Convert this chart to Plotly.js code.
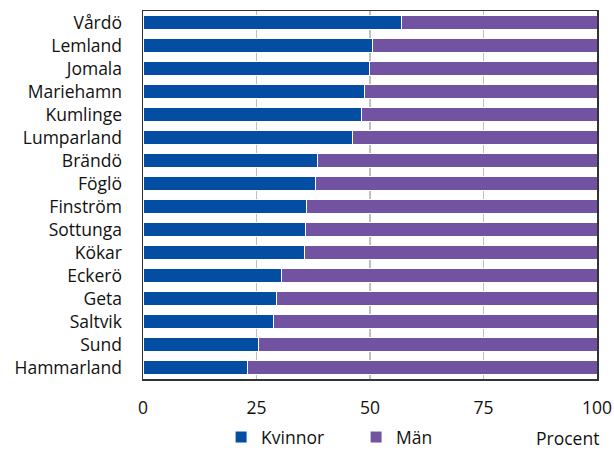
<!DOCTYPE html>
<html>
<head>
<meta charset="utf-8">
<script src="https://cdn.plot.ly/plotly-3.0.1.min.js"></script>
<style>html,body{margin:0;padding:0;background:#fff;}#chart{width:614px;height:452px;}</style>
</head>
<body>
<div id="chart"></div>
<script>
const categories = ["Vårdö","Lemland","Jomala","Mariehamn","Kumlinge","Lumparland","Brändö","Föglö","Finström","Sottunga","Kökar","Eckerö","Geta","Saltvik","Sund","Hammarland"];
const kvinnor = [57.0,50.5,49.8,48.7,48.2,46.2,38.5,38.0,36.0,35.8,35.6,30.4,29.4,28.7,25.5,23.0];
const man = kvinnor.map(v => Math.round((100 - v) * 10) / 10);
const xTicks = [0,25,50,75,100];

const font = {family: "'Open Sans', sans-serif", size: 17.5, color: "#111"};

const traces = [
  {type: "bar", orientation: "h", name: "Kvinnor", y: categories, x: kvinnor,
   marker: {color: "#034EA2", line: {color: "#ffffff", width: 1}}, width: 0.62},
  {type: "bar", orientation: "h", name: "Män", y: categories, x: man,
   marker: {color: "#7253A1", line: {color: "#ffffff", width: 1}}, width: 0.62}
];

const layout = {
  width: 614, height: 452,
  margin: {l: 143, r: 17, t: 11, b: 73, autoexpand: false},
  barmode: "stack",
  font: font,
  paper_bgcolor: "#fff", plot_bgcolor: "#fff",
  showlegend: true,
  legend: {orientation: "h", x: 0.172, xanchor: "left", y: -0.158, yanchor: "middle",
           traceorder: "normal", font: font, entrywidth: 90, entrywidthmode: "pixels",
           itemwidth: 30, bgcolor: "rgba(0,0,0,0)"},
  xaxis: {range: [0, 100], tickvals: xTicks, ticktext: xTicks.map(String),
          showgrid: true, gridcolor: "#BFBFBF", gridwidth: 1.5,
          showline: true, mirror: true, linecolor: "#333", linewidth: 1.5,
          zeroline: false, ticks: "", ticklabelstandoff: 12, fixedrange: true},
  yaxis: {autorange: "reversed", showgrid: false, showline: true, mirror: true,
          linecolor: "#333", linewidth: 1.5, ticks: "", ticklabelstandoff: 16},
  annotations: [{text: "Procent", xref: "paper", yref: "paper", x: 0.936, y: -0.160,
                 xanchor: "center", yanchor: "middle", showarrow: false, font: font}]
};

Plotly.newPlot("chart", traces, layout, {displayModeBar: false, staticPlot: true});
</script>
</body>
</html>
